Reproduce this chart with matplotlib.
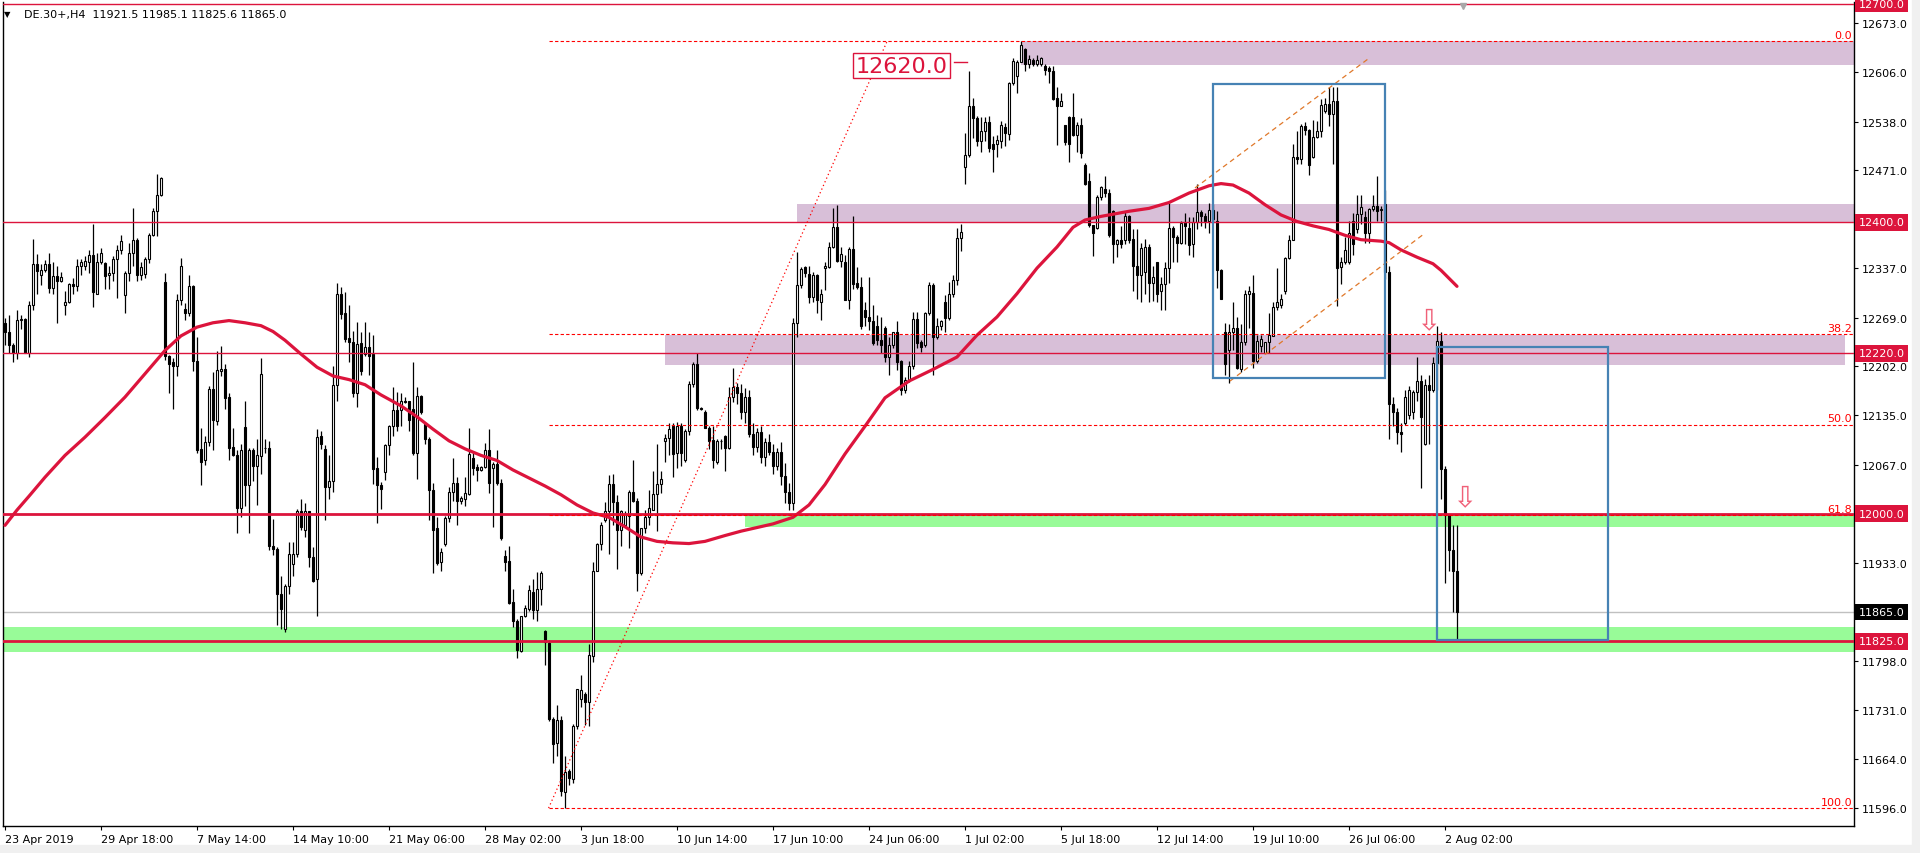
import matplotlib
matplotlib.use("Agg")
import matplotlib.pyplot as plt
from matplotlib.patches import Rectangle
from matplotlib.transforms import blended_transform_factory

# ---- DE.30+ H4 bars (bar 0 = 23 Apr 2019) ----
opens = [
    12262, 12250, 12231, 12221, 12266, 12267, 12221, 12286, 12343, 12327,
    12335, 12343, 12310, 12326, 12320, 12287, 12291, 12315, 12312, 12340,
    12340, 12346, 12355, 12302, 12346, 12344, 12327, 12330, 12349, 12362,
    12300, 12330, 12358, 12375, 12328, 12329, 12349, 12382, 12415, 12437,
    12318, 12217, 12208, 12202, 12293, 12281, 12275, 12312, 12210, 12089,
    12074, 12098, 12171, 12127, 12196, 12198, 12160, 12091, 12080, 12008,
    12119, 12040, 12087, 12066, 12079, 12090, 12090, 11956, 11951, 11890,
    11842, 11901, 11931, 11945, 12004, 11978, 12003, 11940, 11910, 12106,
    12089, 12036, 12045, 12177, 12302, 12276, 12241, 12235, 12165, 12234,
    12219, 12229, 12219, 12063, 12040, 12057, 12094, 12120, 12142, 12142,
    12154, 12154, 12144, 12083, 12161, 12123, 12103, 12032, 11980, 11934,
    11958, 11994, 12030, 12042, 12018, 12020, 12027, 12076, 12064, 12060,
    12064, 12087, 12063, 12068, 12042, 11942, 11935, 11879, 11853, 11811,
    11859, 11869, 11892, 11868, 11897, 11839, 11822, 11718, 11685, 11717,
    11618, 11647, 11636, 11708, 11745, 11752, 11741, 11805, 11922, 11959,
    11992, 12003, 12041, 12016, 11978, 11984, 11997, 12030, 12018, 11918,
    11980, 11995, 12005, 12027, 12041, 12100, 12104, 12121, 12083, 12121,
    12073, 12113, 12178, 12206, 12145, 12139, 12118, 12101, 12071, 12100,
    12106, 12090, 12160, 12174, 12165, 12140, 12160, 12110, 12092, 12112,
    12078, 12098, 12085, 12066, 12084, 12052, 12030, 12015, 12261, 12314,
    12338, 12329, 12298, 12328, 12291, 12337, 12339, 12366, 12393, 12347,
    12346, 12293, 12363, 12317, 12311, 12280, 12270, 12264, 12257, 12238,
    12255, 12215, 12232, 12249, 12209, 12170, 12183, 12202, 12267, 12236,
    12231, 12275, 12314, 12243, 12257, 12290, 12268, 12302, 12321, 12378,
    12476, 12492, 12559, 12543, 12512, 12525, 12537, 12508, 12508, 12512,
    12531, 12521, 12591, 12600, 12620, 12638, 12617, 12623, 12617, 12617,
    12614, 12611, 12607, 12570, 12560, 12533, 12545, 12545, 12519, 12533,
    12479, 12456, 12396, 12392, 12435, 12446, 12440, 12415, 12370, 12375,
    12375, 12409, 12377, 12340, 12327, 12332, 12366, 12316, 12345, 12305,
    12315, 12337, 12392, 12380, 12371, 12400, 12392, 12370, 12400, 12414,
    12408, 12402, 12417, 12402, 12335, 12250, 12225, 12250, 12255, 12198,
    12235, 12301, 12303, 12210, 12230, 12220, 12235, 12244, 12284, 12287,
    12305, 12351, 12375, 12489, 12487, 12532, 12527, 12490, 12517, 12525,
    12553, 12562, 12548, 12567, 12338, 12345, 12345, 12402, 12390, 12411,
    12407, 12385, 12418, 12422, 12417, 12425, 12332, 12150, 12140, 12112,
    12125, 12135, 12140, 12167, 12182, 12095, 12177, 12170, 12207, 12237,
    12062, 11998, 11950, 11921.5,
]
highs = [
    12268, 12273, 12234, 12279, 12273, 12269, 12292, 12377, 12356, 12342,
    12348, 12358, 12346, 12340, 12331, 12305, 12317, 12324, 12349, 12349,
    12353, 12362, 12397, 12358, 12365, 12345, 12340, 12353, 12369, 12383,
    12333, 12372, 12420, 12378, 12346, 12352, 12385, 12420, 12466, 12462,
    12330, 12218, 12214, 12301, 12351, 12289, 12328, 12314, 12243, 12118,
    12106, 12175, 12195, 12223, 12230, 12205, 12166, 12118, 12088, 12095,
    12154, 12090, 12090, 12102, 12214, 12102, 12100, 11993, 11954, 11915,
    11904, 11961, 11961, 12007, 12020, 12014, 12004, 11954, 12116, 12114,
    12094, 12080, 12203, 12317, 12311, 12304, 12286, 12251, 12263, 12249,
    12263, 12249, 12245, 12078, 12043, 12096, 12122, 12174, 12167, 12166,
    12160, 12155, 12208, 12174, 12163, 12124, 12105, 12042, 11995, 11953,
    11997, 12037, 12076, 12050, 12024, 12050, 12118, 12084, 12068, 12066,
    12097, 12116, 12071, 12087, 12048, 11950, 11956, 11897, 11855, 11860,
    11874, 11902, 11910, 11920, 11921, 11840, 11826, 11721, 11738, 11722,
    11668, 11650, 11711, 11760, 11778, 11755, 11821, 11934, 11960, 11989,
    12016, 12053, 12055, 12026, 12005, 12003, 12033, 12074, 12021, 11981,
    12005, 12032, 12058, 12095, 12058, 12110, 12124, 12124, 12126, 12124,
    12116, 12182, 12208, 12221, 12147, 12142, 12121, 12121, 12103, 12103,
    12108, 12174, 12200, 12180, 12178, 12172, 12170, 12125, 12118, 12120,
    12104, 12110, 12095, 12090, 12098, 12070, 12042, 12268, 12359, 12339,
    12340, 12340, 12331, 12329, 12309, 12346, 12373, 12419, 12423, 12366,
    12355, 12366, 12409, 12339, 12325, 12291, 12325, 12286, 12273, 12270,
    12257, 12243, 12250, 12264, 12211, 12188, 12209, 12277, 12277, 12238,
    12277, 12318, 12316, 12268, 12266, 12300, 12318, 12328, 12392, 12397,
    12523, 12607, 12570, 12546, 12545, 12545, 12546, 12518, 12520, 12539,
    12536, 12593, 12625, 12623, 12648, 12639, 12630, 12625, 12630, 12627,
    12617, 12614, 12614, 12586, 12577, 12534, 12546, 12577, 12537, 12543,
    12481, 12468, 12396, 12437, 12450, 12464, 12445, 12417, 12377, 12395,
    12415, 12410, 12391, 12390, 12372, 12377, 12370, 12340, 12345, 12325,
    12345, 12427, 12395, 12382, 12402, 12412, 12407, 12407, 12452, 12417,
    12412, 12427, 12425, 12415, 12336, 12262, 12260, 12291, 12270, 12260,
    12307, 12312, 12327, 12245, 12245, 12236, 12275, 12290, 12337, 12302,
    12352, 12383, 12507, 12525, 12535, 12537, 12528, 12540, 12539, 12569,
    12570, 12585, 12586, 12586, 12352, 12380, 12402, 12412, 12437, 12437,
    12415, 12420, 12437, 12464, 12422, 12444, 12340, 12160, 12145, 12125,
    12170, 12175, 12170, 12215, 12190, 12185, 12190, 12215, 12258, 12250,
    12066, 12000, 11985, 11985.1,
]
lows = [
    12232, 12221, 12208, 12212, 12254, 12220, 12215, 12280, 12301, 12314,
    12332, 12303, 12301, 12261, 12318, 12273, 12289, 12301, 12305, 12328,
    12335, 12330, 12284, 12301, 12342, 12309, 12308, 12319, 12296, 12356,
    12275, 12319, 12340, 12319, 12321, 12324, 12344, 12381, 12381, 12436,
    12211, 12166, 12144, 12189, 12287, 12266, 12271, 12196, 12083, 12039,
    12067, 12093, 12088, 12122, 12189, 12143, 12074, 12079, 11974, 11996,
    12010, 11974, 12045, 12012, 12054, 12083, 11950, 11943, 11847, 11842,
    11837, 11890, 11915, 11940, 11977, 11968, 11927, 11906, 11859, 12089,
    11991, 12020, 12030, 12155, 12267, 12235, 12208, 12160, 12146, 12190,
    12217, 12190, 12041, 11987, 12007, 12046, 12080, 12107, 12114, 12121,
    12152, 12113, 12081, 12047, 12137, 12095, 11992, 11918, 11929, 11921,
    11955, 11989, 12018, 11984, 12013, 12010, 12026, 12053, 12045, 12058,
    12063, 12029, 11982, 12039, 11964, 11921, 11876, 11845, 11802, 11810,
    11858, 11867, 11855, 11853, 11874, 11792, 11716, 11658, 11668, 11612,
    11596, 11628, 11630, 11705, 11735, 11710, 11708, 11797, 11921, 11950,
    11989, 11945, 11984, 11924, 11955, 11984, 11953, 12016, 11894, 11916,
    11974, 11984, 12005, 11976, 12029, 12071, 12080, 12050, 12063, 12066,
    12071, 12108, 12174, 12142, 12142, 12117, 12089, 12063, 12068, 12089,
    12059, 12089, 12153, 12150, 12130, 12125, 12105, 12080, 12085, 12070,
    12066, 12080, 12055, 12060, 12040, 12014, 12005, 12005, 12243, 12310,
    12325, 12289, 12290, 12275, 12266, 12307, 12337, 12364, 12346, 12339,
    12293, 12281, 12309, 12309, 12254, 12257, 12252, 12232, 12231, 12220,
    12208, 12190, 12227, 12197, 12163, 12165, 12181, 12199, 12227, 12222,
    12229, 12272, 12190, 12240, 12252, 12250, 12266, 12298, 12314, 12361,
    12453, 12489, 12515, 12505, 12496, 12511, 12497, 12469, 12490, 12502,
    12504, 12513, 12588, 12577, 12620, 12607, 12611, 12614, 12614, 12614,
    12602, 12591, 12568, 12506, 12559, 12506, 12483, 12518, 12497, 12488,
    12451, 12393, 12353, 12390, 12430, 12435, 12380, 12344, 12352, 12364,
    12370, 12372, 12305, 12295, 12290, 12302, 12290, 12292, 12290, 12280,
    12280, 12317, 12345, 12345, 12370, 12370, 12355, 12352, 12390, 12395,
    12392, 12385, 12400, 12310, 12295, 12190, 12180, 12225, 12198, 12195,
    12232, 12255, 12200, 12207, 12222, 12220, 12220, 12244, 12280, 12282,
    12302, 12350, 12375, 12480, 12480, 12520, 12465, 12488, 12515, 12517,
    12550, 12532, 12480, 12285, 12315, 12342, 12342, 12355, 12385, 12397,
    12372, 12372, 12415, 12402, 12402, 12322, 12102, 12120, 12095, 12085,
    12122, 12130, 12130, 12155, 12035, 12094, 12095, 12167, 12170, 12020,
    11905, 11922, 11865, 11825.6,
]
closes = [
    12250, 12231, 12221, 12266, 12267, 12221, 12286, 12343, 12333, 12334,
    12343, 12310, 12326, 12320, 12325, 12291, 12315, 12312, 12340, 12346,
    12347, 12355, 12304, 12346, 12358, 12326, 12330, 12349, 12362, 12374,
    12330, 12358, 12375, 12328, 12339, 12350, 12383, 12415, 12438, 12460,
    12216, 12206, 12203, 12293, 12340, 12275, 12312, 12210, 12088, 12071,
    12098, 12171, 12128, 12197, 12198, 12159, 12090, 12080, 12008, 12087,
    12040, 12087, 12065, 12080, 12192, 12090, 11955, 11951, 11890, 11869,
    11901, 11945, 11945, 12004, 11982, 12003, 11940, 11908, 12105, 12095,
    12036, 12045, 12177, 12302, 12274, 12240, 12235, 12165, 12233, 12196,
    12229, 12217, 12062, 12039, 12034, 12094, 12120, 12142, 12121, 12155,
    12153, 12128, 12083, 12161, 12139, 12103, 12032, 11978, 11933, 11947,
    11994, 12030, 12042, 12018, 12022, 12029, 12082, 12063, 12060, 12064,
    12087, 12042, 12068, 12042, 11966, 11934, 11877, 11853, 11813, 11859,
    11871, 11895, 11868, 11897, 11918, 11824, 11718, 11684, 11717, 11620,
    11646, 11637, 11709, 11759, 11758, 11741, 11806, 11922, 11959, 11985,
    12004, 12041, 12016, 11978, 12004, 11999, 12030, 12018, 11918, 11980,
    11995, 12008, 12027, 12041, 12047, 12104, 12116, 12082, 12121, 12083,
    12113, 12178, 12205, 12145, 12144, 12118, 12100, 12073, 12100, 12100,
    12090, 12160, 12174, 12165, 12140, 12160, 12110, 12092, 12112, 12078,
    12098, 12085, 12066, 12084, 12052, 12030, 12015, 12261, 12314, 12336,
    12330, 12298, 12328, 12293, 12301, 12340, 12366, 12393, 12347, 12357,
    12293, 12363, 12315, 12311, 12258, 12270, 12264, 12234, 12238, 12232,
    12215, 12232, 12249, 12208, 12170, 12183, 12202, 12267, 12234, 12229,
    12275, 12314, 12243, 12257, 12264, 12268, 12302, 12321, 12378, 12386,
    12492, 12559, 12543, 12512, 12525, 12538, 12502, 12501, 12513, 12534,
    12522, 12591, 12621, 12620, 12643, 12617, 12624, 12617, 12623, 12625,
    12609, 12607, 12569, 12560, 12566, 12510, 12508, 12520, 12534, 12495,
    12453, 12396, 12385, 12435, 12449, 12440, 12382, 12370, 12375, 12370,
    12409, 12375, 12340, 12327, 12365, 12366, 12316, 12325, 12302, 12315,
    12337, 12392, 12380, 12371, 12399, 12395, 12369, 12400, 12414, 12408,
    12402, 12417, 12405, 12335, 12295, 12205, 12250, 12255, 12200, 12235,
    12301, 12305, 12210, 12237, 12240, 12235, 12245, 12284, 12291, 12294,
    12351, 12375, 12489, 12487, 12532, 12527, 12478, 12517, 12525, 12561,
    12562, 12548, 12567, 12337, 12345, 12362, 12385, 12370, 12411, 12421,
    12385, 12418, 12422, 12415, 12418, 12332, 12150, 12140, 12112, 12110,
    12160, 12170, 12167, 12182, 12132, 12177, 12170, 12207, 12237, 12062,
    11998, 11950, 11921, 11865.0,
]

# moving average (red line), sampled along the chart
ma_bars = [0, 3, 6, 10, 15, 20, 25, 30, 35, 40, 44, 48, 52, 56, 60, 64, 67, 70,
           74, 78, 82, 86, 90, 94, 99, 103, 107, 111, 115, 119, 123, 127, 131,
           135, 139, 143, 147, 151, 155, 159, 163, 167, 171, 175, 180, 184, 188,
           192, 197, 201, 205, 210, 215, 220, 226, 232, 238, 243, 248, 253, 258,
           263, 267, 270, 274, 281, 286, 291, 296, 301, 304, 307, 311, 315, 319,
           323, 327, 331, 335, 339, 344, 346, 349, 353, 357, 359, 363]
ma_values = [11984, 12005, 12024, 12050, 12080, 12105, 12132, 12160, 12192, 12224,
             12244, 12256, 12262, 12265, 12262, 12258, 12250, 12238, 12219, 12201,
             12189, 12184, 12177, 12163, 12148, 12133, 12116, 12100, 12089, 12080,
             12073, 12060, 12049, 12038, 12026, 12012, 12001, 11995, 11982, 11968,
             11962, 11960, 11959, 11962, 11970, 11976, 11981, 11986, 11995, 12012,
             12040, 12082, 12120, 12159, 12182, 12198, 12215, 12245, 12270, 12302,
             12337, 12366, 12393, 12403, 12408, 12415, 12419, 12427, 12440, 12450,
             12453, 12451, 12440, 12424, 12410, 12401, 12395, 12390, 12382, 12376,
             12374, 12372, 12362, 12352, 12343, 12334, 12312]

date_labels = ["23 Apr 2019", "29 Apr 18:00", "7 May 14:00", "14 May 10:00",
               "21 May 06:00", "28 May 02:00", "3 Jun 18:00", "10 Jun 14:00",
               "17 Jun 10:00", "24 Jun 06:00", "1 Jul 02:00", "5 Jul 18:00",
               "12 Jul 14:00", "19 Jul 10:00", "26 Jul 06:00", "2 Aug 02:00"]
price_ticks = [12673, 12606, 12538, 12471, 12404, 12337, 12269, 12202, 12135,
               12067, 12000, 11933, 11865, 11798, 11731, 11664, 11596]

red_levels = [12700, 12400, 12220, 12000, 11825]
current_price = 11865.0
fib_low, fib_high = 11596, 12648
fib_levels = [0.0, 38.2, 50.0, 61.8, 100.0]

RED = '#DC143C'
W, H = 1920, 854

fig = plt.figure(figsize=(W / 100, H / 100), dpi=100)
fig.patches.append(Rectangle((1912 / W, 0), 8 / W, 1, transform=fig.transFigure,
                             color='#F0F0F0', zorder=0))
fig.patches.append(Rectangle((0, 0), 1, 8 / H, transform=fig.transFigure,
                             color='#F0F0F0', zorder=0))
ax = fig.add_axes([3 / W, 1 - 827 / H, 1851 / W, 824 / H])
x_left, x_right = -0.5, 462.25
ax.set_xlim(x_left, x_right)
ax.set_ylim(11571.4, 12702.2)

# zones
for x0, x1, y0, y1 in [(165, 460, 12204.5, 12245), (198, x_right, 12400, 12425),
                       (254, x_right, 12616, 12648)]:
    ax.add_patch(Rectangle((x0, y0), x1 - x0, y1 - y0, color='#D8BFD8', lw=0, zorder=1))
for x0, y0, y1 in [(185, 11982, 12000), (x_left, 11809.7, 11845)]:
    ax.add_patch(Rectangle((x0, y0), x_right - x0, y1 - y0, color='#98FB98', lw=0, zorder=1))

ax.axhline(current_price, color='#C0C0C0', lw=1, zorder=1.5)

# candles
idx = list(range(len(closes)))
ax.vlines(idx, lows, highs, color='black', lw=0.9, zorder=3)
up = [i for i in idx if closes[i] >= opens[i]]
dn = [i for i in idx if closes[i] < opens[i]]
ax.bar(up, [closes[i] - opens[i] for i in up], bottom=[opens[i] for i in up],
       width=0.5, facecolor='white', edgecolor='black', lw=0.8, zorder=4)
ax.bar(dn, [opens[i] - closes[i] for i in dn], bottom=[closes[i] for i in dn],
       width=0.5, facecolor='black', edgecolor='black', lw=0.8, zorder=4)

ax.plot(ma_bars, ma_values, color=RED, lw=2.3, zorder=5,
        solid_capstyle='round', solid_joinstyle='round')

# horizontal levels
for lv in red_levels:
    ax.axhline(lv, color=RED, lw=2.0 if lv in (12000, 11825) else 1.0, zorder=6)

# fibonacci
fib_x0 = 135.9
for lvl in fib_levels:
    p = fib_high - lvl / 100 * (fib_high - fib_low)
    ax.hlines(p, fib_x0, x_right, color='red', lw=0.8, ls=(0, (3, 2)), zorder=6)
    ax.text(461.8, p + 2, f"{lvl:.1f}", color='red', fontsize=8,
            ha='right', va='bottom', zorder=7)
ax.plot([fib_x0, 220.5], [fib_low, fib_high], color='red', lw=0.9,
        ls=(0, (1, 2.2)), zorder=6)

# 12620 price label
ax.text(224.1, 12615, "12620.0", fontsize=16, color=RED, ha='center', va='center',
        zorder=8, bbox=dict(boxstyle='square,pad=0.12', fc='white', ec=RED, lw=1))
ax.plot([237.2, 240.5], [12620, 12620], color=RED, lw=1, zorder=8)

# blue boxes and channel
for x0, x1, y0, y1 in [(302.1, 345.0, 12186, 12589), (358.1, 400.75, 11826, 12229)]:
    ax.add_patch(Rectangle((x0, y0), x1 - x0, y1 - y0, fill=False,
                           ec='#4682B4', lw=1.6, zorder=7))
ax.plot([297.5, 341], [12447, 12625], color='#E0782A', lw=0.9, ls=(0, (4, 3)), zorder=6)
ax.plot([306.25, 355], [12182, 12385], color='#E0782A', lw=0.9, ls=(0, (4, 3)), zorder=6)

# arrows
for bx, py in [(355.75, 12265), (364.75, 12022)]:
    ax.text(bx, py, '\u21e9', fontsize=21, color='#F06078', ha='center',
            va='center', zorder=8)

ax.plot([364.5], [12697], marker='v', color='#A8A8A8', ms=5, zorder=8, clip_on=False)

# axes styling
for s in ['left', 'bottom', 'right']:
    ax.spines[s].set_color('black')
    ax.spines[s].set_linewidth(1.0)
ax.spines['top'].set_visible(False)
ax.yaxis.tick_right()
ax.set_yticks(price_ticks)
ax.set_yticklabels([f"{v:.1f}" for v in price_ticks])
ax.set_xticks(range(0, 24 * len(date_labels), 24))
ax.set_xticklabels(date_labels)
for lbl in ax.get_xticklabels():
    lbl.set_ha('left')
ax.tick_params(axis='y', length=3, width=0.8, pad=2.5, labelsize=8, colors='black')
ax.tick_params(axis='x', length=3, width=0.8, pad=2.5, labelsize=8, colors='black')

trans = blended_transform_factory(ax.transAxes, ax.transData)
for lv in red_levels:
    ax.text(1.0025, lv, f"{lv:.1f}", transform=trans, fontsize=8, color='white',
            ha='left', va='center', zorder=10, clip_on=False,
            bbox=dict(boxstyle='square,pad=0.3', fc=RED, ec='none'))
ax.text(1.0025, current_price, f"{current_price:.1f}", transform=trans, fontsize=8,
        color='white', ha='left', va='center', zorder=10, clip_on=False,
        bbox=dict(boxstyle='square,pad=0.3', fc='black', ec='none'))

fig.text(4 / W, 1 - 15 / H, '\u25bc', fontsize=6, va='center', ha='left')
fig.text(24 / W, 1 - 15 / H, "DE.30+,H4  11921.5 11985.1 11825.6 11865.0",
         fontsize=8, va='center', ha='left')

fig.savefig("out.png", dpi=100)
